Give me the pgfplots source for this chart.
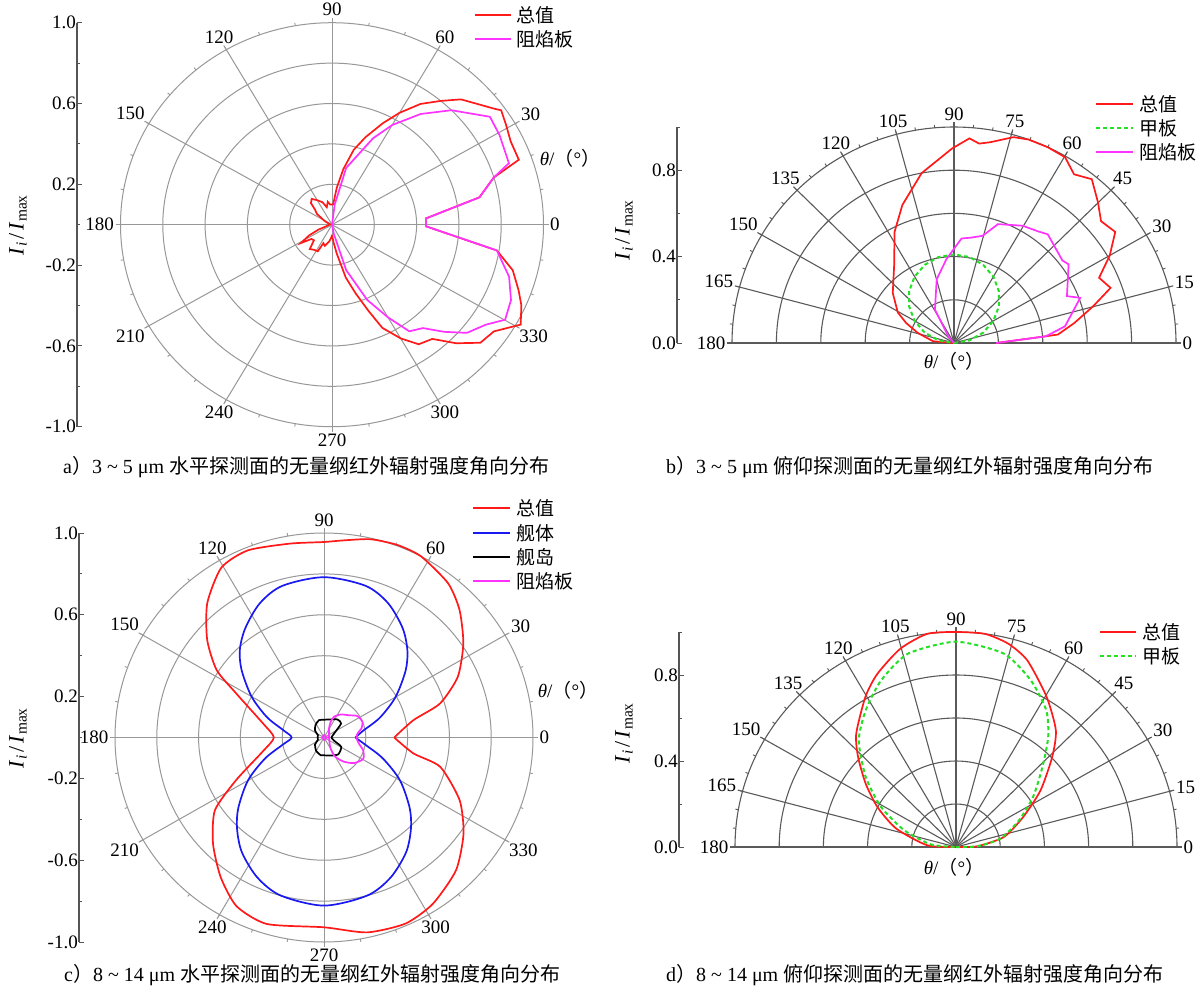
\documentclass[border=0pt]{standalone}
\usepackage{fontspec}
\setmainfont{Liberation Serif}
\newfontfamily\cjk{Noto Sans CJK SC}
\usepackage{pgfplots}
\pgfplotsset{compat=1.18}
\usepgfplotslibrary{polar}
\definecolor{gridA}{HTML}{989898}
\definecolor{gridB}{HTML}{5A5A5A}
\definecolor{axc}{HTML}{555555}
\definecolor{cred}{HTML}{FF1A1A}
\definecolor{cmag}{HTML}{FF33FF}
\definecolor{cblue}{HTML}{1A1AF0}
\definecolor{cgreen}{HTML}{22E022}
\newcommand\fs{\fontsize{19}{22}\selectfont}
\newcommand\fc{\fontsize{20}{24}\selectfont}
\newcommand\fy{\fontsize{22}{26}\selectfont}
\newcommand\ylab{\textit{I}\textsubscript{\textit{i}}\kern3pt/\kern3pt\textit{I}\textsubscript{max}}
\newcommand\thlab{\textit{θ}/{\cjk （}°{\cjk ）}}

% full polar grid: cx, cy (px, downwards), rx, ry
\newcommand\fullgrid[4]{%
  \foreach \r in {0.2,0.4,0.6,0.8,1.0}{\draw[gridA,line width=1pt] (#1pt,-#2pt) ellipse [x radius={\r*#3pt}, y radius={\r*#4pt}];}
  \foreach \a in {0,10,...,350}{\draw[gridA,line width=0.9pt] ({#1pt+#3*cos(\a)*1pt},{-#2pt+#4*sin(\a)*1pt}) -- ({#1pt+(#3+3)*cos(\a)*1pt},{-#2pt+(#4+3)*sin(\a)*1pt});}
  \foreach \a in {0,30,...,330}{%
    \draw[gridA,line width=1pt] (#1pt,-#2pt) -- ({#1pt+(#3+5)*cos(\a)*1pt},{-#2pt+(#4+5)*sin(\a)*1pt});
    \pgfmathtruncatemacro\an{mod(\a+180,360)}
    \node[anchor=\an,inner sep=1.5pt,font=\fs] at ({#1pt+(#3+5)*cos(\a)*1pt},{-#2pt+(#4+5)*sin(\a)*1pt}) {\a};
  }%
}
% half polar grid
\newcommand\halfgrid[4]{%
  \foreach \r in {0.2,0.4,0.6,0.8,1.0}{\draw[gridB,line width=1.1pt] ({#1pt+\r*#3pt},-#2pt) arc[start angle=0,end angle=180,x radius={\r*#3pt},y radius={\r*#4pt}];}
  \foreach \a in {0,5,...,180}{\draw[gridB,line width=0.9pt] ({#1pt+#3*cos(\a)*1pt},{-#2pt+#4*sin(\a)*1pt}) -- ({#1pt+(#3+3)*cos(\a)*1pt},{-#2pt+(#4+3)*sin(\a)*1pt});}
  \foreach \a in {0,15,...,180}{%
    \draw[gridB,line width=1.1pt] (#1pt,-#2pt) -- ({#1pt+(#3+5)*cos(\a)*1pt},{-#2pt+(#4+5)*sin(\a)*1pt});
    \pgfmathtruncatemacro\an{mod(\a+180,360)}
    \node[anchor=\an,inner sep=1.5pt,font=\fs] at ({#1pt+(#3+5)*cos(\a)*1pt},{-#2pt+(#4+5)*sin(\a)*1pt}) {\a};
  }%
}

\pgfplotsset{myax/.style={anchor=south west, clip=false, hide x axis, axis y line*=left,
  y axis line style={axc,line width=1.2pt}, tick align=inside, ytick pos=left,
  major tick length=5pt, minor tick length=3pt, tick style={axc,line width=1pt},
  yticklabel style={font=\fs,inner sep=1pt}, enlargelimits=false}}

\begin{document}
\begin{tikzpicture}
\fill[white] (0pt,0pt) rectangle (1200pt,-991pt);

% ---------------- panel a ----------------
\fullgrid{332}{224.7}{211.5}{202}
\begin{axis}[myax, at={(77pt,-426.7pt)}, x=211.5pt, y=202pt,
  xmin=-1.2057, xmax=1, ymin=-1, ymax=1,
  ytick={-1,-0.6,-0.2,0.2,0.6,1}, yticklabels={-1.0,-0.6,-0.2,0.2,0.6,1.0},
  minor ytick={-0.8,-0.4,0,0.4,0.8}]
\addplot[cred, line width=1.7pt, data cs=polar] coordinates {
(-90,0.05) (-85,0.09) (-81,0.146) (-76,0.27) (-71.8,0.358) (-68,0.46) (-65,0.564) (-60,0.65)
(-55.3,0.72) (-50,0.738) (-45,0.83) (-39.8,0.913) (-34.6,0.93) (-29,1.02) (-24,0.98)
(-20.2,0.94) (-14.8,0.884) (-9.3,0.79) (-1,0.444) (4,0.445) (11,0.71) (17,0.80) (20,0.94)
(26,0.94) (31,0.96) (35.3,0.98) (37,0.956) (45.5,0.87) (50,0.80) (55,0.73) (60,0.64)
(64.5,0.556) (70,0.46) (74.5,0.385) (79,0.28) (83,0.184) (87,0.10)
(95,0.10) (100,0.115) (106,0.09) (112,0.12) (120,0.14) (127,0.16) (133,0.146) (137,0.11)
(143,0.09) (152,0.04) (170,0.01) (192,0.02) (201,0.07) (206,0.12) (211.7,0.173) (216,0.12)
(222,0.115) (229,0.16) (236,0.15) (243,0.148) (246,0.10) (252,0.11) (261,0.084) (268,0.06) (270,0.05)};
\addplot[cmag, line width=1.7pt, data cs=polar] coordinates {
(-90,0.0) (-79,0.047) (-73.4,0.235) (-65.9,0.408) (-60,0.53) (-55.3,0.642) (-50,0.668)
(-45,0.75) (-40,0.833) (-34.2,0.88) (-29.9,0.944) (-23.8,0.925) (-17.1,0.876) (-9.3,0.79)
(-1,0.444) (4,0.445) (11,0.71) (17,0.80) (20,0.89) (29.3,0.908) (35.6,0.918) (45.1,0.80)
(52.6,0.69) (60,0.57) (65.6,0.47) (76.6,0.289) (82.7,0.10) (90,0.0)};
\end{axis}
\node[rotate=90,font=\fy] at (18pt,-225pt) {\ylab};
\node[font=\fs] at (570pt,-158pt) {\thlab};
\draw[cred,line width=1.4pt] (475pt,-15pt) -- (511pt,-15pt);
\node[anchor=west,font=\fs,inner sep=1pt] at (515pt,-15pt) {\cjk 总值};
\draw[cmag,line width=1.4pt] (475pt,-39pt) -- (511pt,-39pt);
\node[anchor=west,font=\fs,inner sep=1pt] at (515pt,-39pt) {\cjk 阻焰板};
\node[anchor=west,font=\fc,inner sep=0pt] at (63pt,-467pt) {a{\cjk ）}3 \textasciitilde\ 5 μm {\cjk 水平探测面的无量纲红外辐射强度角向分布}};

% ---------------- panel b ----------------
\halfgrid{954}{343}{222}{216}
\begin{axis}[myax, at={(677pt,-343pt)}, x=222pt, y=216pt,
  xmin=-1.2477, xmax=1, ymin=0, ymax=1,
  ytick={0,0.4,0.8}, yticklabels={0.0,0.4,0.8}, minor ytick={0.2,0.6,1.0}]
\addplot[cred, line width=1.7pt, data cs=polar] coordinates {
(0,0.19) (4.3,0.415) (4.8,0.47) (9.7,0.55) (15.2,0.65) (19.9,0.75) (24.8,0.72) (30,0.81)
(35.3,0.89) (40.4,0.87) (45.2,0.92) (50.7,0.98) (55.3,0.95) (59.8,0.995) (65,1.0) (70.4,1.0)
(74.3,0.99) (80,0.944) (83,0.93) (85.8,0.95) (90.6,0.9) (100.5,0.80) (110,0.68) (117.5,0.58)
(126.8,0.45) (140,0.36) (150.8,0.29) (156.7,0.235) (164,0.17) (175,0.095) (180,0.0)};
\addplot[cgreen, line width=2pt, dash pattern=on 4pt off 3pt, data cs=polar] coordinates {
(0,0) (10,0.071) (20,0.140) (30,0.205) (40,0.264) (50,0.314) (60,0.355) (70,0.385) (80,0.404)
(90,0.41) (100,0.404) (110,0.385) (120,0.355) (130,0.314) (140,0.264) (150,0.205) (160,0.140)
(170,0.071) (180,0)};
\addplot[cmag, line width=1.7pt, data cs=polar] coordinates {
(0,0.19) (4.3,0.415) (8.8,0.506) (20.2,0.606) (23.1,0.553) (35.2,0.632) (38,0.62) (50,0.657)
(54,0.64) (60.3,0.625) (70.2,0.585) (75.4,0.513) (81,0.494) (86,0.485) (95,0.39) (104.8,0.305)
(119,0.177) (130,0.04) (140,0.0)};
\end{axis}
\node[rotate=90,font=\fy] at (624pt,-230pt) {\ylab};
\node[font=\fs] at (954pt,-361pt) {\thlab};
\draw[cred,line width=1.4pt] (1096pt,-104pt) -- (1133pt,-104pt);
\node[anchor=west,font=\fs,inner sep=1pt] at (1138pt,-104pt) {\cjk 总值};
\draw[cgreen,line width=1.8pt,dash pattern=on 4pt off 3pt] (1096pt,-128pt) -- (1133pt,-128pt);
\node[anchor=west,font=\fs,inner sep=1pt] at (1138pt,-128pt) {\cjk 甲板};
\draw[cmag,line width=1.4pt] (1096pt,-152pt) -- (1133pt,-152pt);
\node[anchor=west,font=\fs,inner sep=1pt] at (1138pt,-152pt) {\cjk 阻焰板};
\node[anchor=west,font=\fc,inner sep=0pt] at (666pt,-467pt) {b{\cjk ）}3 \textasciitilde\ 5 μm {\cjk 俯仰探测面的无量纲红外辐射强度角向分布}};

% ---------------- panel c ----------------
\fullgrid{324}{737.5}{209}{204.5}
\begin{axis}[myax, at={(79pt,-942pt)}, x=209pt, y=204.5pt,
  xmin=-1.1722, xmax=1, ymin=-1, ymax=1,
  ytick={-1,-0.6,-0.2,0.2,0.6,1}, yticklabels={-1.0,-0.6,-0.2,0.2,0.6,1.0},
  minor ytick={-0.8,-0.4,0,0.4,0.8}]
\addplot[cred, line width=1.7pt, smooth, tension=0.4, data cs=polar] coordinates {
(0,0.336) (11.2,0.436) (16.7,0.58) (24.9,0.706) (34.6,0.81) (43.9,0.90) (51.8,0.96) (62.3,1.0)
(69.4,1.005) (77,0.995) (84.3,0.969) (90,0.956) (99.7,0.962) (111.7,0.985) (120.6,0.965)
(130.4,0.862) (139.5,0.735) (147.3,0.61) (152.8,0.473) (166.7,0.30) (180,0.24) (193,0.30)
(206.4,0.47) (214.3,0.632) (224.4,0.743) (234.1,0.843) (243.1,0.925) (253.3,0.952) (270,0.928)
(282.2,0.975) (293.2,0.99) (302.6,0.966) (314.2,0.906) (324.8,0.817) (334.7,0.718)
(345.5,0.575) (349.7,0.435) (360,0.336)};
\addplot[cblue, line width=1.7pt, smooth, tension=0.5, data cs=polar] coordinates {
(0,0.150) (10,0.19) (20,0.285) (30,0.395) (40,0.51) (47,0.585) (55,0.655) (65,0.725)
(75,0.768) (90,0.784) (105,0.768) (115,0.725) (125,0.655) (133,0.59) (140,0.515) (150,0.40)
(160,0.29) (170,0.195) (180,0.155) (190,0.20) (200,0.30) (210,0.42) (220,0.535) (227,0.61)
(235,0.685) (245,0.755) (255,0.80) (270,0.822) (285,0.80) (295,0.755) (305,0.685) (313,0.61)
(320,0.535) (330,0.42) (340,0.30) (350,0.20) (360,0.150)};
\addplot[black, line width=1.7pt, smooth, tension=0.4, data cs=polar] coordinates {
(0,0.035) (22,0.052) (40,0.107) (54,0.109) (70,0.094) (90,0.087) (106,0.088) (124,0.073)
(142,0.054) (159,0.031) (180,0.03) (201,0.031) (218,0.054) (240,0.075) (260,0.088) (270,0.087)
(290,0.094) (310,0.107) (331,0.094) (342,0.051) (360,0.035)};
\addplot[cmag, line width=1.7pt, smooth, tension=0.4, data cs=polar] coordinates {
(0,0.024) (61.4,0.050) (67.4,0.083) (64.6,0.112) (54.7,0.138) (42.2,0.162) (33.3,0.191)
(22.7,0.199) (14,0.185) (7.5,0.163) (0,0.155) (-10.3,0.17) (-18.6,0.198) (-29.2,0.215)
(-41.2,0.19) (-51.6,0.15) (-61.1,0.104) (-57.8,0.056) (0,0.024)};
\addplot[cmag, line width=1.7pt, data cs=polar] coordinates {
(0,0.015) (90,0.012) (180,0.008) (270,0.012) (360,0.015)};
\end{axis}
\node[rotate=90,font=\fy] at (18pt,-738pt) {\ylab};
\node[font=\fs] at (568pt,-690pt) {\thlab};
\draw[cred,line width=1.4pt] (473pt,-508pt) -- (510pt,-508pt);
\node[anchor=west,font=\fs,inner sep=1pt] at (515pt,-508pt) {\cjk 总值};
\draw[cblue,line width=1.4pt] (473pt,-533pt) -- (510pt,-533pt);
\node[anchor=west,font=\fs,inner sep=1pt] at (515pt,-533pt) {\cjk 舰体};
\draw[black,line width=1.4pt] (473pt,-557pt) -- (510pt,-557pt);
\node[anchor=west,font=\fs,inner sep=1pt] at (515pt,-557pt) {\cjk 舰岛};
\draw[cmag,line width=1.4pt] (473pt,-581pt) -- (510pt,-581pt);
\node[anchor=west,font=\fs,inner sep=1pt] at (515pt,-581pt) {\cjk 阻焰板};
\node[anchor=west,font=\fc,inner sep=0pt] at (64pt,-975pt) {c{\cjk ）}8 \textasciitilde\ 14 μm {\cjk 水平探测面的无量纲红外辐射强度角向分布}};

% ---------------- panel d ----------------
\halfgrid{956}{847}{221}{215}
\begin{axis}[myax, at={(679pt,-847pt)}, x=221pt, y=215pt,
  xmin=-1.2534, xmax=1, ymin=0, ymax=1,
  ytick={0,0.4,0.8}, yticklabels={0.0,0.4,0.8}, minor ytick={0.2,0.6,1.0}]
\addplot[cred, line width=1.7pt, smooth, tension=0.4, data cs=polar] coordinates {
(0,0.0) (2,0.096) (12.2,0.222) (24.7,0.335) (34.6,0.465) (43.9,0.604) (50.2,0.706) (59.6,0.81)
(69.6,0.926) (76,0.975) (82.5,1.0) (90,1.0) (97.5,1.0) (105.3,0.956) (113.9,0.88) (120.4,0.81)
(130.6,0.694) (136.6,0.61) (144.2,0.504) (152.5,0.40) (162.5,0.283) (176.5,0.13) (180,0.0)};
\addplot[cgreen, line width=2pt, dash pattern=on 4pt off 3pt, smooth, tension=0.4, data cs=polar] coordinates {
(0,0.0) (2,0.096) (11,0.204) (23.4,0.31) (33.8,0.42) (43.6,0.54) (50.8,0.66) (57.3,0.756)
(66.4,0.846) (76.4,0.925) (90,0.955) (103.6,0.925) (113.6,0.846) (122.7,0.756) (131.6,0.663)
(141.4,0.523) (151.2,0.387) (161.6,0.247) (174,0.114) (180,0.0)};
\end{axis}
\node[rotate=90,font=\fy] at (624pt,-733pt) {\ylab};
\node[font=\fs] at (954pt,-867pt) {\thlab};
\draw[cred,line width=1.4pt] (1100pt,-632pt) -- (1136pt,-632pt);
\node[anchor=west,font=\fs,inner sep=1pt] at (1141pt,-632pt) {\cjk 总值};
\draw[cgreen,line width=1.8pt,dash pattern=on 4pt off 3pt] (1100pt,-656pt) -- (1136pt,-656pt);
\node[anchor=west,font=\fs,inner sep=1pt] at (1141pt,-656pt) {\cjk 甲板};
\node[anchor=west,font=\fc,inner sep=0pt] at (666pt,-975pt) {d{\cjk ）}8 \textasciitilde\ 14 μm {\cjk 俯仰探测面的无量纲红外辐射强度角向分布}};

\pgfresetboundingbox
\useasboundingbox (0pt,0pt) rectangle (1200pt,-991pt);
\end{tikzpicture}
\end{document}
